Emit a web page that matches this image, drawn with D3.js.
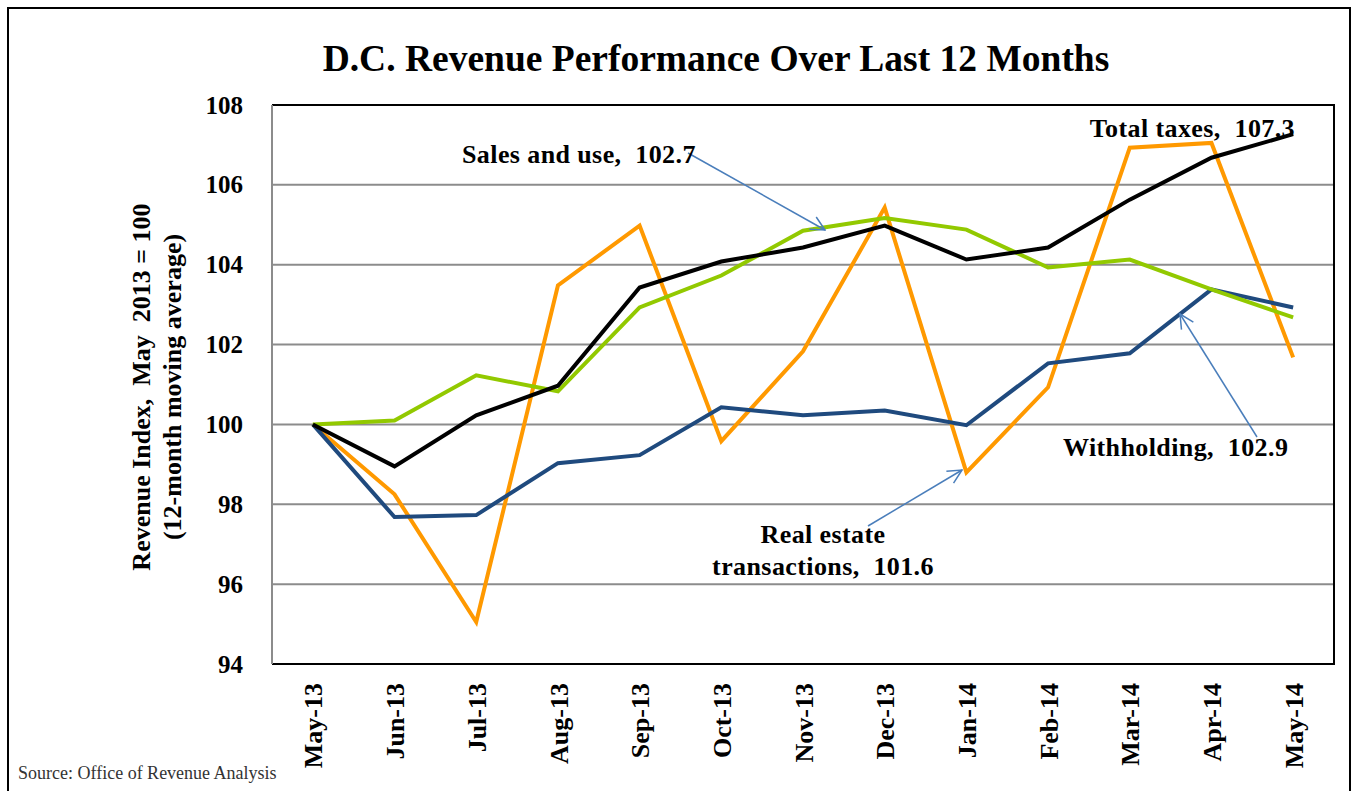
<!DOCTYPE html>
<html>
<head>
<meta charset="utf-8">
<script src="https://cdn.jsdelivr.net/npm/d3@7"></script>
<style>
  body { margin: 0; background: #fff; }
  text { font-family: "Liberation Serif", "Times New Roman", serif; }
</style>
</head>
<body>
<div class="layout"></div>
<script>
// months on the x axis
var months = ["May-13", "Jun-13", "Jul-13", "Aug-13", "Sep-13", "Oct-13", "Nov-13",
              "Dec-13", "Jan-14", "Feb-14", "Mar-14", "Apr-14", "May-14"];

// revenue index values (May 2013 = 100)
var totalTaxes  = [100, 98.95, 100.23, 100.97, 103.43, 104.08, 104.43, 104.98, 104.13, 104.43, 105.63, 106.68, 107.27];
var salesAndUse = [100, 100.1, 101.23, 100.83, 102.93, 103.73, 104.85, 105.17, 104.88, 103.93, 104.13, 103.38, 102.68];
var withholding = [100, 97.68, 97.73, 99.03, 99.23, 100.43, 100.23, 100.35, 99.98, 101.53, 101.78, 103.38, 102.93];
var realEstate  = [100, 98.25, 95.05, 103.48, 104.98, 99.58, 101.83, 105.43, 98.8, 100.93, 106.93, 107.05, 101.68];

var yTicks = [94, 96, 98, 100, 102, 104, 106, 108];

var width = 1354, height = 791;
var plot = {left: 272, right: 1334, top: 105, bottom: 664};

var svg = d3.select("div.layout")
  .append("svg")
  .attr("width", width)
  .attr("height", height);

// outer frame
svg.append("rect")
  .attr("x", 8).attr("y", 8)
  .attr("width", 1342).attr("height", 800)
  .attr("fill", "none")
  .attr("stroke", "#000")
  .attr("stroke-width", 2);

var x = d3.scalePoint()
  .domain(months)
  .range([plot.left, plot.right])
  .padding(0.5);

var y = d3.scaleLinear()
  .domain([94, 108])
  .range([plot.bottom, plot.top]);

// gridlines
svg.append("g")
  .selectAll("line")
  .data(yTicks.slice(1, -1))
  .enter()
  .append("line")
  .attr("x1", plot.left).attr("x2", plot.right)
  .attr("y1", function (d) { return y(d); })
  .attr("y2", function (d) { return y(d); })
  .attr("stroke", "#8c8c8c")
  .attr("stroke-width", 2);

// plot border: black top, right and bottom, grey left
svg.append("path")
  .attr("d", "M" + plot.left + "," + plot.top + "H" + plot.right + "V" + plot.bottom + "H" + plot.left)
  .attr("fill", "none")
  .attr("stroke", "#000")
  .attr("stroke-width", 2);
svg.append("line")
  .attr("x1", plot.left).attr("x2", plot.left)
  .attr("y1", plot.top).attr("y2", plot.bottom)
  .attr("stroke", "#8c8c8c")
  .attr("stroke-width", 2);

// y axis labels
var yAxis = d3.axisLeft(y).tickValues(yTicks).tickSize(0).tickPadding(29);
var gy = svg.append("g")
  .attr("transform", "translate(" + plot.left + ",0)")
  .call(yAxis);
gy.select(".domain").remove();
gy.selectAll("text")
  .attr("font-family", "Liberation Serif")
  .attr("font-weight", "bold")
  .attr("font-size", 25)
  .attr("fill", "#000");

// x axis labels, rotated
var xAxis = d3.axisBottom(x).tickSize(0).tickPadding(0);
var gx = svg.append("g")
  .attr("transform", "translate(0," + plot.bottom + ")")
  .call(xAxis);
gx.select(".domain").remove();
gx.selectAll("text")
  .attr("font-family", "Liberation Serif")
  .attr("font-weight", "bold")
  .attr("font-size", 26)
  .attr("fill", "#000")
  .attr("text-anchor", "end")
  .attr("transform", "translate(0,19) rotate(-90)")
  .attr("dy", "0.35em")
  .attr("y", 0)
  .attr("x", 0);

// series lines
var series = [
  {name: "realEstate", values: realEstate, color: "#ff9900"},
  {name: "withholding", values: withholding, color: "#1f4a7e"},
  {name: "salesAndUse", values: salesAndUse, color: "#92c900"},
  {name: "totalTaxes", values: totalTaxes, color: "#000000"}
];

var line = d3.line()
  .x(function (d, i) { return x(months[i]); })
  .y(function (d) { return y(d); });

svg.append("g")
  .selectAll("path")
  .data(series)
  .enter()
  .append("path")
  .attr("d", function (s) { return line(s.values); })
  .attr("fill", "none")
  .attr("stroke", function (s) { return s.color; })
  .attr("stroke-width", 4)
  .attr("stroke-linejoin", "miter");

// title
svg.append("text")
  .attr("x", 716).attr("y", 71)
  .attr("text-anchor", "middle")
  .attr("font-weight", "bold")
  .attr("font-size", 37.5)
  .text("D.C. Revenue Performance Over Last 12 Months");

// y axis title
var yTitle = svg.append("text")
  .attr("transform", "translate(150,387) rotate(-90)")
  .attr("text-anchor", "middle")
  .attr("font-weight", "bold")
  .attr("font-size", 26)
  .style("white-space", "pre");
yTitle.append("tspan").attr("x", 0).attr("y", 0).text("Revenue Index,  May  2013 = 100");
yTitle.append("tspan").attr("x", 0).attr("y", 31).text("(12-month moving average)");

// annotations with arrows
var arrowColor = "#4a7ebb";
svg.append("defs").append("marker")
  .attr("id", "open")
  .attr("viewBox", "0 0 16 16")
  .attr("refX", 15).attr("refY", 8)
  .attr("markerWidth", 16).attr("markerHeight", 16)
  .attr("markerUnits", "userSpaceOnUse")
  .attr("orient", "auto")
  .append("path")
  .attr("d", "M1,1 L15,8 L1,15")
  .attr("fill", "none")
  .attr("stroke", arrowColor)
  .attr("stroke-width", 1.5);

function arrow(x1, y1, x2, y2) {
  svg.append("line")
    .attr("x1", x1).attr("y1", y1)
    .attr("x2", x2).attr("y2", y2)
    .attr("stroke", arrowColor)
    .attr("stroke-width", 1.5)
    .attr("marker-end", "url(#open)");
}

function label(tx, ty, anchor, lines) {
  var t = svg.append("text")
    .attr("text-anchor", anchor)
    .attr("font-weight", "bold")
    .attr("font-size", 26)
    .attr("letter-spacing", 0.4)
    .style("white-space", "pre");
  lines.forEach(function (l, i) {
    t.append("tspan").attr("x", tx).attr("y", ty + i * 32).text(l);
  });
}

arrow(688, 153, 825, 230);
label(462, 163, "start", ["Sales and use,  102.7"]);

label(1295, 137, "end", ["Total taxes,  107.3"]);

arrow(1257, 437, 1180, 314);
label(1063, 456, "start", ["Withholding,  102.9"]);

arrow(868, 526, 962, 470);
label(823, 543, "middle", ["Real estate", "transactions,  101.6"]);

// source note
svg.append("text")
  .attr("x", 18).attr("y", 779)
  .attr("font-size", 18)
  .attr("fill", "#333")
  .text("Source: Office of Revenue Analysis");
</script>
</body>
</html>
